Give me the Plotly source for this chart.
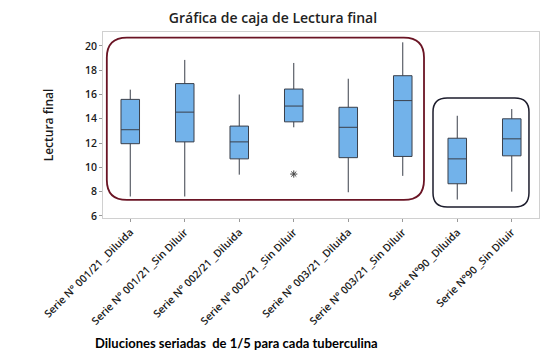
import plotly.graph_objects as go

categories = [
    "Serie N° 001/21 _Diluida",
    "Serie N° 001/21 _Sin Diluir",
    "Serie N° 002/21 _Diluida",
    "Serie N° 002/21 _Sin Diluir",
    "Serie N° 003/21 _Diluida",
    "Serie N° 003/21 _Sin Diluir",
    "Serie N°90 _Diluida",
    "Serie N°90 _Sin Diluir",
]
lower_whisker = [7.6, 7.6, 9.4, 13.3, 7.95, 9.3, 7.35, 8.0]
q1_vals = [11.95, 12.1, 10.7, 13.75, 10.8, 10.9, 8.65, 10.95]
median_vals = [13.1, 14.55, 12.1, 15.05, 13.3, 15.5, 10.7, 12.35]
q3_vals = [15.6, 16.9, 13.4, 16.45, 14.95, 17.55, 12.4, 14.0]
upper_whisker = [16.4, 18.85, 16.0, 18.6, 17.3, 20.3, 14.25, 14.8]
outlier_idx = [3]
outlier_vals = [9.45]
y_ticks = [6, 8, 10, 12, 14, 16, 18, 20]

fig = go.Figure()
for i, name in enumerate(categories):
    fig.add_trace(go.Box(
        x=[i], q1=[q1_vals[i]], median=[median_vals[i]], q3=[q3_vals[i]],
        lowerfence=[lower_whisker[i]], upperfence=[upper_whisker[i]],
        name=name, width=0.34, boxpoints=False,
        fillcolor="#72b2ea", line=dict(color="#3a3f4a", width=1),
        whiskerwidth=0, showlegend=False,
    ))

fig.add_trace(go.Scatter(
    x=outlier_idx, y=outlier_vals, mode="markers",
    marker=dict(symbol="asterisk-open", size=6, color="#444",
                line=dict(color="#444", width=1)),
    showlegend=False,
))


def rounded(x0, x1, y0, y1, rx, ry):
    return (f"M {x0+rx},{y1} L {x1-rx},{y1} Q {x1},{y1} {x1},{y1-ry} "
            f"L {x1},{y0+ry} Q {x1},{y0} {x1-rx},{y0} L {x0+rx},{y0} "
            f"Q {x0},{y0} {x0},{y0+ry} L {x0},{y1-ry} Q {x0},{y1} {x0+rx},{y1} Z")

fig.add_shape(type="path", xref="x", yref="y",
              path=rounded(-0.43, 5.39, 7.32, 20.69, 0.37, 1.65),
              line=dict(color="#6a1424", width=1.8))
fig.add_shape(type="path", xref="x", yref="y",
              path=rounded(5.555, 7.316, 6.74, 15.72, 0.26, 1.15),
              line=dict(color="#1c1c2c", width=1.5))

fig.update_layout(
    width=555, height=360,
    margin=dict(l=95, r=24, t=24, b=150),
    paper_bgcolor="white", plot_bgcolor="white",
    font=dict(family="Open Sans", color="#222"),
    title=dict(text="Gráfica de caja de Lectura final", x=265/555, xanchor="center",
               y=1-10/360, yanchor="middle", xref="container", yref="container",
               font=dict(size=14, color="#222", family="Open Sans", weight=600)),
    xaxis=dict(range=[-0.5, 7.5], tickvals=list(range(len(categories))),
               ticktext=categories, tickangle=-45, showgrid=False, zeroline=False,
               showline=True, linecolor="#d0d0d0", mirror=True,
               ticks="outside", ticklen=3, tickcolor="#999",
               tickfont=dict(size=10.5, family="Open Sans", weight=600, color="#1a1a1a")),
    yaxis=dict(range=[5.83, 21.15], tickvals=y_ticks, showgrid=False, zeroline=False,
               showline=True, linecolor="#d0d0d0", mirror=True,
               ticks="outside", ticklen=3, tickcolor="#999",
               tickfont=dict(size=10.5, family="Open Sans", weight=600, color="#1a1a1a"),
               title=dict(text="Lectura final", standoff=28,
                          font=dict(size=12, family="Open Sans", weight=600, color="#1a1a1a"))),
)

fig.add_annotation(text="Diluciones seriadas  de 1/5 para cada tuberculina",
                   xref="paper", yref="paper", x=(85-95)/436, y=(210-335)/186,
                   xanchor="left", yanchor="middle", showarrow=False,
                   font=dict(size=13, family="Lato", weight=700, color="#000"))

fig.write_html("out.html")
